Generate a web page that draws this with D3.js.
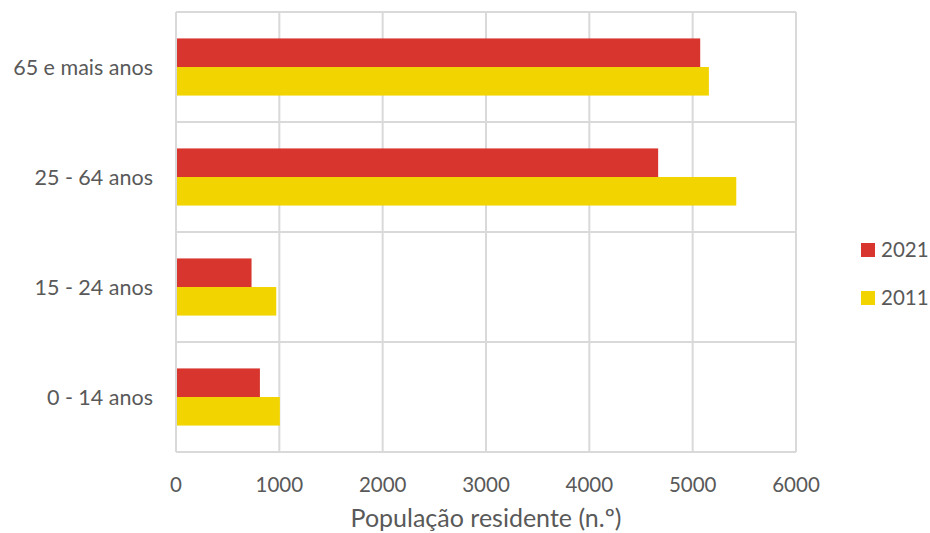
<!DOCTYPE html>
<html><head><meta charset="utf-8">
<script src="https://cdn.jsdelivr.net/npm/d3@7"></script>
<style>
body{margin:0;background:#fff;}
text{font-family:Lato,"Open Sans",sans-serif;fill:#595959;}
</style></head>
<body><svg id="chart" width="930" height="533"></svg>
<script>
const categories = ["65 e mais anos","25 - 64 anos","15 - 24 anos","0 - 14 anos"];
const seriesNames = ["2021","2011"];
const values2021 = [5073, 4666, 731, 812];
const values2011 = [5157, 5422, 970, 1005];
const xTicks = [0,1000,2000,3000,4000,5000,6000];
const colors = ["#d7352d","#f2d500"];

const svg = d3.select("#chart");
const m = {left:176, right:796, top:12, bottom:452};
const x = d3.scaleLinear().domain([0,6000]).range([m.left, m.right]);
const y = d3.scaleBand().domain(categories).range([m.top, m.bottom]);
const inner = d3.scaleBand().domain(seriesNames).range([0, y.bandwidth()]).paddingOuter(0.925).paddingInner(0);

svg.append("g").selectAll("line").data(xTicks).join("line")
  .attr("x1", d=>x(d)).attr("x2", d=>x(d)).attr("y1", m.top).attr("y2", m.bottom)
  .attr("stroke","#d9d9d9").attr("stroke-width",2);
const hs = categories.map(c=>y(c)).concat([m.bottom]);
svg.append("g").selectAll("line").data(hs).join("line")
  .attr("x1", m.left).attr("x2", m.right).attr("y1", d=>d).attr("y2", d=>d)
  .attr("stroke","#d9d9d9").attr("stroke-width",2);

const data = [values2021, values2011];
seriesNames.forEach((s,i)=>{
  svg.append("g").selectAll("rect").data(categories).join("rect")
    .attr("x", x(0)+1)
    .attr("y", c=>y(c)+inner(s))
    .attr("width", (c,j)=>x(data[i][j])-x(0)-1)
    .attr("height", inner.bandwidth())
    .attr("fill", colors[i]);
});

svg.append("g").selectAll("text").data(categories).join("text")
  .attr("x", 153).attr("y", c=>y(c)+y.bandwidth()/2)
  .attr("dy","0.35em").attr("text-anchor","end")
  .attr("font-size",21.5).text(d=>d);

svg.append("g").selectAll("text").data(xTicks).join("text")
  .attr("x", d=>x(d)).attr("y", 492).attr("text-anchor","middle")
  .attr("font-size",20.5).text(d=>d);

svg.append("text").attr("x", 486).attr("y", 527).attr("text-anchor","middle")
  .attr("font-size",25).text("População residente (n.º)");

seriesNames.forEach((s,i)=>{
  const ly = 249 + i*48;
  svg.append("rect").attr("x",861).attr("y",ly-6).attr("width",14).attr("height",14).attr("fill",colors[i]);
  svg.append("text").attr("x",881).attr("y",ly+1).attr("dy","0.35em").attr("font-size",20.5).text(s);
});
</script></body></html>
